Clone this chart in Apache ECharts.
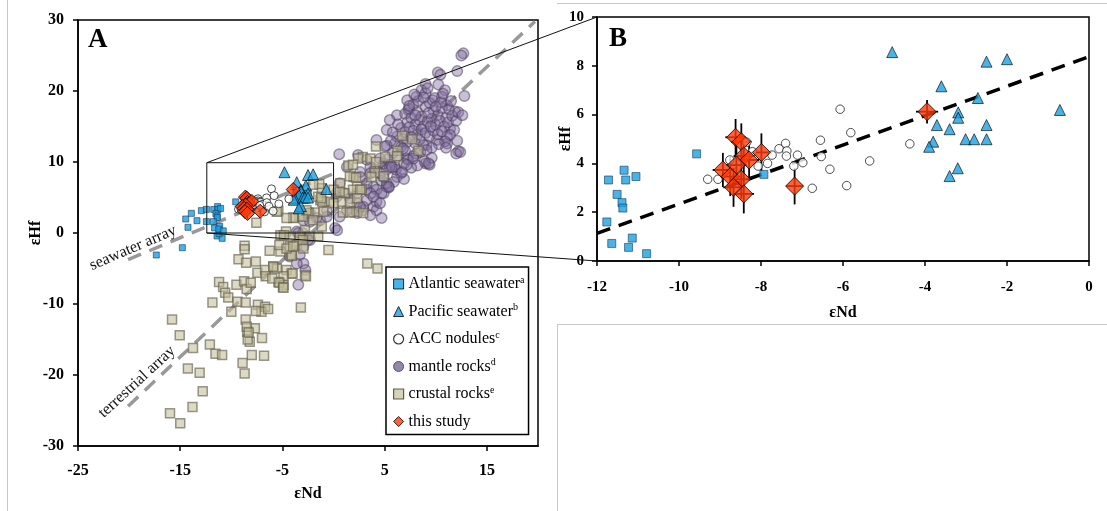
<!DOCTYPE html>
<html>
<head>
<meta charset="utf-8">
<script src="https://cdn.jsdelivr.net/npm/echarts@6/dist/echarts.min.js"></script>
<style>
  html, body { margin: 0; padding: 0; background: #fff; }
  #chart { width: 1107px; height: 511px; }
</style>
</head>
<body>
<div id="chart"></div>
<script>
// ---- data: [εNd, εHf] pairs ----
const atlanticInset = [
  [-11.72,3.32],[-11.34,3.72],[-11.30,3.32],[-11.05,3.46],[-11.51,2.73],[-11.39,2.39],
  [-11.37,2.17],[-11.76,1.60],[-11.64,0.72],[-11.14,0.94],[-11.23,0.56],[-10.79,0.30],
  [-9.57,4.39],[-7.93,3.55]
];
const atlanticOutside = [
  [-17.34,-3.1],[-14.79,-2.07],[-14.24,0.8],[-14.46,1.97],[-13.91,2.77],[-13.36,1.73],
  [-12.93,3.15],[-12.44,3.33],[-12.44,1.6],[-11.4,-0.42],[-10.9,-0.75],[-11.2,-0.1]
];
const pacific = [
  [-4.80,8.56],[-2.50,8.17],[-2.00,8.27],[-3.60,7.16],[-2.71,6.68],[-3.19,6.09],
  [-3.19,5.87],[-3.71,5.57],[-3.40,5.40],[-2.50,5.57],[-0.71,6.19],[-3.80,4.89],
  [-3.90,4.68],[-3.01,4.99],[-2.80,4.99],[-2.50,4.99],[-3.20,3.80],[-3.40,3.48]
];
const accNodules = [
  [-9.30,3.35],[-9.05,3.35],[-8.76,4.14],[-8.35,4.87],[-8.21,4.48],[-8.07,3.89],
  [-7.84,4.00],[-7.73,4.34],[-7.56,4.60],[-7.40,4.82],[-7.37,4.51],[-7.38,4.30],
  [-7.11,4.34],[-6.98,4.03],[-7.20,3.89],[-6.75,2.98],[-6.55,4.95],[-6.53,4.28],
  [-6.32,3.76],[-6.07,6.22],[-5.81,5.26],[-5.91,3.09],[-5.35,4.10],[-4.37,4.80]
];
const thisStudy = [
  [-8.62,5.07],[-8.48,4.89],[-8.42,4.30],[-8.29,4.14],[-7.99,4.45],[-8.60,3.93],
  [-8.93,3.73],[-8.75,3.46],[-8.48,3.35],[-8.67,3.02],[-8.42,2.75],[-7.18,3.07],
  [-3.95,6.12]
];
// 2σ uncertainties [εNd, εHf]
const thisStudyErr = [
  [0.25,0.75],[0.25,0.75],[0.25,0.80],[0.25,0.80],[0.25,0.78],[0.25,0.80],
  [0.25,0.70],[0.25,0.80],[0.25,0.80],[0.25,0.80],[0.25,0.80],[0.20,0.75],
  [0.27,0.48]
];
const mantleRocks = [
  [12.7,25.3],[12.5,25.0],[10.2,22.6],[10.45,22.3],[12.1,22.8],[9.0,21.0],[10.25,20.9],[10.9,20.1],
  [8.6,20.1],[9.0,19.7],[12.8,19.3],[9.7,18.7],[8.1,19.2],[7.2,18.7],[10.6,19.2],[11.1,18.0],
  [11.9,17.1],[7.3,17.3],[6.2,16.6],[5.5,15.9],[5.2,14.5],[4.2,13.1],[11.4,14.7],[11.1,13.6],
  [10.1,13.1],[9.1,12.4],[11.1,12.6],[12.2,11.5],[12.0,11.2],[9.0,9.8],[9.4,9.6],[8.1,11.2],
  [7.2,10.5],[6.0,9.3],[6.2,7.9],[4.9,9.8],[5.2,8.9],
  [7.0,16.8],[7.4,17.5],[7.8,18.1],[8.2,17.0],[8.6,16.4],[9.0,17.8],[9.4,18.3],[9.8,17.2],
  [10.2,16.6],[10.6,17.6],[11.0,16.2],[7.2,15.6],[7.6,16.2],[8.0,15.3],[8.4,15.9],[8.8,15.0],
  [9.2,15.7],[9.6,16.1],[10.0,15.2],[10.4,15.8],[10.8,15.0],[11.2,15.6],[6.6,14.8],[7.0,14.2],
  [7.4,14.9],[7.8,14.4],[8.2,13.8],[8.6,14.6],[9.0,14.1],[9.4,13.6],[9.8,14.4],[10.2,13.9],
  [10.6,14.3],[6.2,13.6],[6.8,13.2],[7.2,12.8],[7.6,13.5],[8.0,12.6],[8.4,13.1],[8.8,12.4],
  [5.8,14.2],[6.3,15.3],[6.0,12.6],[6.6,12.1],[7.0,11.6],[5.6,13.0],[5.2,12.3],[8.3,18.6],
  [8.8,19.1],[9.3,16.9],[9.9,19.0],[10.5,18.4],[11.3,17.4],[11.6,16.5],[12.0,15.8],[11.8,14.5],
  [11.4,13.8],[10.9,12.9],[10.3,12.5],[9.6,12.0],[8.5,11.4],[7.8,10.8],[7.3,10.3],[6.9,9.8],
  [6.3,10.9],[5.8,11.3],[5.3,10.4],[5.6,9.6],[6.1,8.9],[6.6,8.4],[7.4,17.9],[8.0,16.6],
  [9.5,15.0],[10.0,17.8],[7.9,19.5],[10.7,19.6],[9.2,20.4],[11.5,18.6],[12.2,17.0],[12.6,16.6],
  [12.1,13.0],[12.4,11.4],[11.0,12.0],[9.6,10.6],[8.9,10.1],[8.2,9.5],[7.6,9.2],[6.9,7.6],
  [5.9,7.2],[5.4,6.4],[4.7,7.4],[4.0,9.0],
  [0.55,11.1],[1.3,9.3],[2.6,8.6],[3.6,9.3],[4.55,8.4],[5.5,9.3],[3.9,6.5],[4.9,5.6],
  [3.25,6.1],[2.3,5.6],[4.2,4.4],[5.2,6.5],[2.4,11.0],[3.25,10.3],[4.55,10.5],[5.0,12.2],
  [3.6,8.4],[5.2,7.0],[4.2,6.1],[3.25,7.0],[2.6,7.9],[3.9,3.7],[3.25,4.6],[4.7,2.1],
  [4.2,3.2],[2.9,3.2],[2.3,4.2],[1.6,4.9],[1.1,5.6],[0.3,5.1],[0.15,0.7],[0.35,0.4],
  [-0.66,3.2],[-1.3,1.8],[-2.3,2.8],[-2.95,1.8],[-0.66,2.3],[-1.65,2.1],[-2.3,1.6],[0.6,2.3],
  [1.3,3.2],[2.3,2.8],[2.9,3.7],[3.6,5.6],[-3.6,0.2],[-3.0,0.0],[6.8,11.9],[9.1,11.7],
  [9.3,9.8],[7.8,10.5],[7.15,9.6],[6.7,8.6],[5.7,9.3],[4.9,7.9],[5.4,6.5],[4.7,5.6],
  [3.9,5.1],[4.55,4.2],[3.6,2.5],[2.6,3.7],[1.8,3.0],[0.6,7.0],[0.3,5.6],
  [-2.6,-0.5],[-3.45,0.0],[-2.3,-1.0],[-2.95,-1.9],[-3.3,-3.1],[-2.95,-4.3],[-3.45,-7.3],
  [-4.3,-3.3],[-2.75,-5.2],[-2.5,-1.0],[-3.6,-4.3]
];
const crustalRocks = [
  [6.7,13.7],[7.7,13.2],[6.25,11.6],[8.3,11.6],[4.15,12.2],[2.85,10.7],[3.6,10.5],[4.15,10.0],
  [5.05,10.7],[6.2,10.8],[4.05,8.5],[4.9,8.0],[3.7,7.9],[1.45,9.5],[1.95,7.9],[0.65,7.0],
  [2.3,6.5],[1.1,5.6],[2.75,6.1],[0.8,4.4],[1.6,4.3],[2.25,3.0],[2.9,2.8],[0.0,6.1],
  [-1.15,6.3],[-0.35,4.4],[-1.3,4.6],[2.4,10.5],[1.9,9.6],[1.6,8.0],[2.2,7.8],[1.9,6.1],
  [2.6,6.1],[2.3,4.9],[0.6,5.8],[0.0,4.2],[0.9,2.9],[1.6,2.9],
  [-1.1,4.4],[-1.5,5.1],[-1.4,6.9],[-2.0,6.8],[-2.6,5.4],[-1.8,2.9],[-1.0,3.0],[-2.45,2.8],
  [-3.35,2.4],[-3.9,2.2],[-2.0,1.8],[-1.15,0.9],[-2.8,0.4],[-4.65,0.2],[-5.4,3.1],[-3.95,2.1],
  [-3.0,2.3],[-1.2,4.9],[-2.65,3.2],[-7.55,1.45],[-5.55,3.0],[-4.6,2.1],
  [-4.25,-0.5],[-5.2,-0.3],[-2.95,-0.6],[-2.3,-0.5],[-1.5,-0.5],[-0.5,-2.4],[-4.25,-1.9],
  [-3.6,-1.7],[-2.95,-2.2],[-5.2,-2.6],[-4.1,-3.1],[-5.9,-4.7],[-5.55,-5.0],[-4.6,-5.2],
  [-4.1,-5.7],[-2.8,-5.9],[-4.9,-6.1],[-5.4,-6.9],[-4.9,-7.3],[3.3,-4.3],[4.3,-5.0],
  [-3.2,-10.5],[-2.7,-6.1],[-3.3,-0.5],[-3.0,-1.0],
  [-8.7,-1.8],[-8.7,-2.3],[-9.3,-3.7],[-8.55,-4.2],[-7.6,-4.0],[-6.25,-2.5],[-5.3,-1.7],
  [-7.45,-5.6],[-6.7,-5.2],[-5.9,-4.8],[-6.65,-6.1],[-6.0,-6.4],[-5.3,-7.0],[-4.95,-7.6],
  [-11.2,-6.9],[-10.8,-7.6],[-10.6,-8.4],[-10.3,-9.1],[-9.5,-7.3],[-8.75,-6.8],[-8.5,-7.9],
  [-8.1,-7.0],[-9.4,-9.7],[-8.6,-9.8],[-11.85,-9.8],[-10.0,-11.1],[-7.4,-10.1],[-6.7,-10.4],
  [-7.05,-11.1],[-6.4,-10.7],[-7.6,-11.0],
  [-15.8,-12.2],[-15.05,-14.4],[-13.75,-16.2],[-14.25,-19.1],[-13.1,-19.7],[-12.8,-22.3],
  [-13.8,-24.5],[-16.0,-25.4],[-15.0,-26.8],[-12.1,-15.7],[-11.55,-17.0],[-10.9,-17.2],
  [-8.6,-12.2],[-7.7,-13.4],[-8.45,-13.9],[-8.2,-15.3],[-8.4,-15.0],[-7.0,-14.8],[-8.0,-17.2],
  [-6.8,-17.3],[-8.9,-18.3],[-8.7,-19.8],[-8.5,-13.2],[-8.3,-14.0],[-4.9,-7.7],[-4.0,-5.7],
  [-4.1,-3.2],[-4.6,-2.2],[-4.85,-0.3],[-3.95,-1.9]
];
// reference arrays, given by their end points
const seawaterArray = [[-20.1,-3.75],[0,8.37]];
const terrestrialArray = [[-20.1,-24.4],[19.7,29.8]];
const seawaterFit = [[-12,1.13],[0,8.37]];
// axis ticks
const xTicksA = [-25,-15,-5,5,15];
const legendNames = ['Atlantic seawater','Pacific seawater','ACC nodules','mantle rocks','crustal rocks','this study'];
const legendSup = ['a','b','c','d','e',''];
// inset window drawn on panel A: [εNd min, εHf min, εNd max, εHf max]
const insetWindow = [-12.4, 0, 0, 9.9];

// ---- styles ----
const SERIF = '"Liberation Serif", "Times New Roman", serif';
const BLUE = '#1AA0E4';
const RED = '#FF3A0A';

const chart = echarts.init(document.getElementById('chart'), null, {renderer: 'canvas'});

function valueAxis(gridIndex, min, max, interval, fontSize, name, extra) {
  return Object.assign({
    type: 'value', gridIndex, min, max, interval,
    name, nameLocation: 'middle', nameMoveOverlap: false,
    nameTextStyle: {fontFamily: SERIF, fontWeight: 'bold', fontSize: 16, color: '#000'},
    axisLine: {show: true, onZero: false, lineStyle: {color: '#000', width: 1.5}},
    axisTick: {show: true, inside: false, length: 5, lineStyle: {color: '#000', width: 1.5}},
    axisLabel: {fontFamily: SERIF, fontWeight: 'bold', fontSize, color: '#000'},
    splitLine: {show: false}
  }, extra || {});
}

const sym = {
  atlantic: {color: BLUE, borderColor: '#1b3f5e', borderWidth: 0.8},
  pacific: {color: BLUE, borderColor: '#000', borderWidth: 0.8},
  acc: {color: '#fff', borderColor: '#222', borderWidth: 1},
  mantle: {color: 'rgba(132,112,165,0.55)', borderColor: 'rgba(74,64,90,0.65)', borderWidth: 1.5},
  crustal: {color: 'rgba(194,189,152,0.72)', borderColor: 'rgba(100,96,76,0.8)', borderWidth: 1.5},
  study: {color: RED, borderColor: '#000', borderWidth: 1}
};

function scatter(name, gi, data, symbol, size, style, z) {
  return {name, type: 'scatter', xAxisIndex: gi, yAxisIndex: gi, data, symbol, symbolSize: size,
    itemStyle: style, z: z || 2, silent: true, animation: false};
}
function dashed(name, gi, data, color, width) {
  return {name, type: 'line', xAxisIndex: gi, yAxisIndex: gi, data, showSymbol: false, symbol: 'none',
    lineStyle: {color, width, type: [14, 9], cap: 'butt'}, z: 1, silent: true, animation: false};
}
function errorBars(gi, width) {
  return {
    type: 'custom', xAxisIndex: gi, yAxisIndex: gi, z: 2, silent: true, animation: false,
    data: thisStudy.map((p, i) => [p[0], p[1], thisStudyErr[i][0], thisStudyErr[i][1]]),
    encode: {x: 0, y: 1},
    renderItem: function (params, api) {
      const x = api.value(0), y = api.value(1), ex = api.value(2), ey = api.value(3);
      const t = api.coord([x, y + ey]), b = api.coord([x, y - ey]);
      const l = api.coord([x - ex, y]), r = api.coord([x + ex, y]);
      const st = {stroke: '#000', lineWidth: width};
      return {type: 'group', children: [
        {type: 'line', shape: {x1: t[0], y1: t[1], x2: b[0], y2: b[1]}, style: st},
        {type: 'line', shape: {x1: l[0], y1: l[1], x2: r[0], y2: r[1]}, style: st}
      ]};
    }
  };
}

const option = {
  backgroundColor: '#fff',
  animation: false,
  grid: [
    {left: 78, top: 20, width: 460, height: 426, show: true, borderColor: '#000', borderWidth: 1.5, backgroundColor: 'transparent'},
    {left: 597, top: 17, width: 492, height: 244, show: true, borderColor: '#000', borderWidth: 1.5, backgroundColor: 'transparent'}
  ],
  xAxis: [
    valueAxis(0, -25, 20, 5, 16, 'εNd', {
      nameGap: 40,
      axisTick: {show: true, length: 5, customValues: xTicksA, lineStyle: {color: '#000', width: 1.5}},
      axisLabel: {fontFamily: SERIF, fontWeight: 'bold', fontSize: 16, color: '#000', margin: 17,
        customValues: xTicksA,
        formatter: v => (xTicksA.indexOf(v) >= 0 ? String(v) : '')}
    }),
    valueAxis(1, -12, 0, 2, 15, 'εNd', {nameGap: 44,
      axisLabel: {fontFamily: SERIF, fontWeight: 'bold', fontSize: 15, color: '#000', margin: 19}})
  ],
  yAxis: [
    valueAxis(0, -30, 30, 10, 16, 'εHf', {nameGap: 34,
      axisLabel: {fontFamily: SERIF, fontWeight: 'bold', fontSize: 16, color: '#000', margin: 14}}),
    valueAxis(1, 0, 10, 2, 15, 'εHf', {nameGap: 23,
      axisLabel: {fontFamily: SERIF, fontWeight: 'bold', fontSize: 15, color: '#000', margin: 13}})
  ],
  legend: {
    show: true, orient: 'vertical', left: 386, top: 267,
    padding: [8, 4, 4, 7], itemGap: 9.5, itemWidth: 10, itemHeight: 10,
    borderColor: '#000', borderWidth: 1.5, backgroundColor: '#fff', selectedMode: false,
    data: [
      {name: legendNames[0], icon: 'rect', itemStyle: {color: BLUE, borderColor: '#000', borderWidth: 1}},
      {name: legendNames[1], icon: 'triangle', itemStyle: {color: BLUE, borderColor: '#000', borderWidth: 1}},
      {name: legendNames[2], icon: 'circle', itemStyle: {color: '#fff', borderColor: '#000', borderWidth: 1.2}},
      {name: legendNames[3], icon: 'circle', itemStyle: {color: '#7a6a98', borderColor: '#3e3550', borderWidth: 1}},
      {name: legendNames[4], icon: 'rect', itemStyle: {color: '#cdc8aa', borderColor: '#3c3a30', borderWidth: 1.2}},
      {name: legendNames[5], icon: 'diamond', itemStyle: {color: RED, borderColor: '#000', borderWidth: 1}}
    ],
    formatter: name => '{t|' + name + '}{s|' + legendSup[legendNames.indexOf(name)] + '}',
    textStyle: {
      fontFamily: SERIF, fontSize: 16, color: '#000', lineHeight: 18,
      rich: {
        t: {fontFamily: SERIF, fontSize: 16, color: '#000', lineHeight: 18},
        s: {fontFamily: SERIF, fontSize: 10, color: '#000', lineHeight: 11, verticalAlign: 'top'}
      }
    },
    z: 20
  },
  series: [
    // panel A
    dashed('terrestrial array', 0, terrestrialArray, '#999', 3.5),
    dashed('seawater array', 0, seawaterArray, '#999', 3.5),
    scatter(legendNames[3], 0, mantleRocks, 'circle', 10.5, sym.mantle),
    scatter(legendNames[4], 0, crustalRocks, 'rect', 9, sym.crustal),
    scatter(legendNames[0], 0, atlanticOutside.concat(atlanticInset), 'rect', 6, sym.atlantic),
    scatter(legendNames[1], 0, pacific, 'triangle', 11, sym.pacific),
    scatter(legendNames[2], 0, accNodules, 'circle', 8, sym.acc),
    errorBars(0, 1),
    scatter(legendNames[5], 0, thisStudy, 'diamond', 14, sym.study, 3),
    // panel B
    dashed('seawater fit', 1, seawaterFit, '#000', 3.5),
    scatter(legendNames[0], 1, atlanticInset, 'rect', 8, sym.atlantic),
    scatter(legendNames[1], 1, pacific, 'triangle', 11, sym.pacific),
    scatter(legendNames[2], 1, accNodules, 'circle', 8.5, sym.acc),
    errorBars(1, 1.8),
    scatter(legendNames[5], 1, thisStudy, 'diamond', 18, sym.study, 3)
  ]
};
chart.setOption(option);

// inset window on A and its connectors to panel B
const px = (gi, pt) => chart.convertToPixel({xAxisIndex: gi, yAxisIndex: gi}, pt);
const wTL = px(0, [insetWindow[0], insetWindow[3]]);
const wBR = px(0, [insetWindow[2], insetWindow[1]]);
const wBL = px(0, [insetWindow[0], insetWindow[1]]);
const bTL = px(1, [-12, 10]);
const bBL = px(1, [-12, 0]);
const frame = '#c8c8c8';

chart.setOption({
  graphic: [
    // panel frames
    {type: 'line', shape: {x1: 7.5, y1: 0, x2: 7.5, y2: 511}, style: {stroke: frame, lineWidth: 1}, z: 0},
    {type: 'line', shape: {x1: 557, y1: 3.5, x2: 1107, y2: 3.5}, style: {stroke: frame, lineWidth: 1}, z: 0},
    {type: 'line', shape: {x1: 557, y1: 324.5, x2: 1107, y2: 324.5}, style: {stroke: frame, lineWidth: 1}, z: 0},
    {type: 'line', shape: {x1: 557.5, y1: 324.5, x2: 557.5, y2: 511}, style: {stroke: frame, lineWidth: 1}, z: 0},
    // inset window + connectors
    {type: 'rect', shape: {x: wTL[0], y: wTL[1], width: wBR[0] - wTL[0], height: wBR[1] - wTL[1]},
      style: {fill: 'none', stroke: '#111', lineWidth: 1}, z: 10},
    {type: 'line', shape: {x1: wTL[0], y1: wTL[1], x2: bTL[0], y2: bTL[1]}, style: {stroke: '#111', lineWidth: 1}, z: 10},
    {type: 'line', shape: {x1: wBL[0], y1: wBL[1], x2: bBL[0], y2: bBL[1]}, style: {stroke: '#111', lineWidth: 1}, z: 10},
    // panel letters
    {type: 'text', x: 88, y: 27, style: {text: 'A', font: 'bold 27px ' + SERIF, fill: '#000'}, z: 10},
    {type: 'text', x: 609, y: 26, style: {text: 'B', font: 'bold 27px ' + SERIF, fill: '#000'}, z: 10},
    // array labels
    {type: 'text', x: 133, y: 248, rotation: 0.405,
      style: {text: 'seawater array', font: '16px ' + SERIF, fill: '#111', align: 'center', verticalAlign: 'middle'}, z: 10},
    {type: 'text', x: 137, y: 382, rotation: 0.745,
      style: {text: 'terrestrial array', font: '16px ' + SERIF, fill: '#111', align: 'center', verticalAlign: 'middle'}, z: 10}
  ]
});
</script>
</body>
</html>
